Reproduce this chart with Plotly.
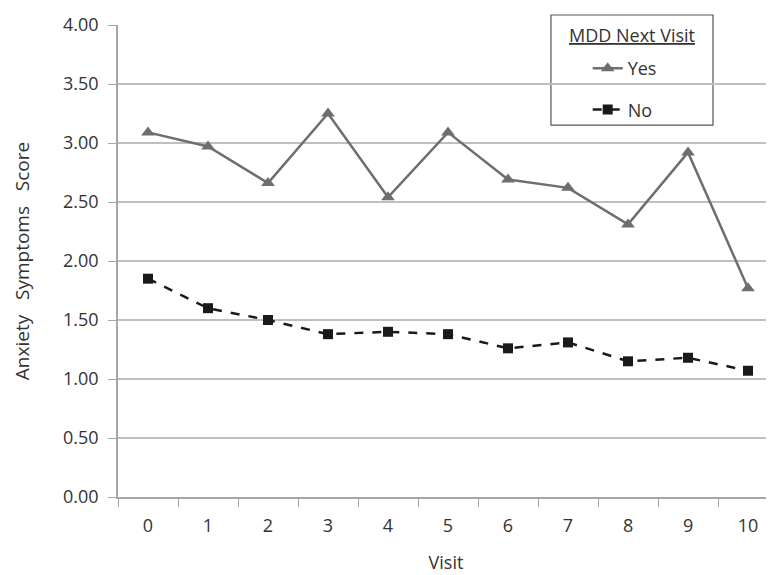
import plotly.graph_objects as go

visits = [str(i) for i in range(11)]
yes_scores = [3.09, 2.97, 2.66, 3.25, 2.54, 3.09, 2.69, 2.62, 2.31, 2.92, 1.77]
no_scores = [1.85, 1.60, 1.50, 1.38, 1.40, 1.38, 1.26, 1.31, 1.15, 1.18, 1.07]
y_ticks = [0, 0.5, 1.0, 1.5, 2.0, 2.5, 3.0, 3.5, 4.0]

FONT = "Open Sans"
TXT = "#333333"
fig = go.Figure()
fig.add_trace(go.Scatter(
    x=visits, y=yes_scores, name="Yes", mode="lines+markers", legendgroup="a",
    line=dict(color="#6e6e6e", width=2.5),
    marker=dict(symbol="triangle-up", size=12, color="#6e6e6e"),
))
fig.add_trace(go.Scatter(
    x=visits, y=no_scores, name="No", mode="lines+markers", legendgroup="b",
    line=dict(color="#1a1a1a", width=2.5, dash="dash"),
    marker=dict(symbol="square", size=10, color="#1a1a1a"),
))

# legend frame and title
fig.add_shape(type="rect", xref="paper", yref="paper",
              x0=0.660, x1=0.907, y0=0.788, y1=1.0212,
              line=dict(color="#555555", width=1.2), fillcolor="white", layer="between")
fig.add_annotation(xref="paper", yref="paper", x=0.7835, y=0.979,
                   xanchor="center", yanchor="middle",
                   text="<u>MDD Next Visit</u>", showarrow=False,
                   font=dict(family=FONT, size=18, color=TXT))

fig.update_layout(
    width=774, height=575,
    margin=dict(l=110, r=8, t=17, b=86),
    paper_bgcolor="white", plot_bgcolor="white",
    font=dict(family=FONT, size=18, color=TXT),
    showlegend=True,
    legend=dict(
        x=0.716, y=0.947, xanchor="left", yanchor="top",
        bgcolor="rgba(0,0,0,0)", borderwidth=0,
        font=dict(family=FONT, size=18, color=TXT),
        itemwidth=30, tracegroupgap=15,
    ),
    xaxis=dict(
        type="category", range=[-0.5, 10.433], automargin=False,
        showline=True, linecolor="#a6a6a6", linewidth=1.5,
        ticks="outside", ticklen=8, tickcolor="#a6a6a6", tickson="boundaries",
        showgrid=False, ticklabelstandoff=12,
        title=dict(text="Visit", font=dict(family=FONT, size=18, color=TXT), standoff=20),
        tickfont=dict(family=FONT, size=18, color=TXT),
    ),
    yaxis=dict(
        range=[0, 4], tickvals=y_ticks, tickformat=".2f", automargin=False,
        showline=True, linecolor="#a6a6a6", linewidth=1.5,
        ticks="outside", ticklen=8, tickcolor="#a6a6a6",
        showgrid=True, gridcolor="#bfbfbf", gridwidth=1.5,
        zeroline=False, ticklabelstandoff=6,
        title=dict(text="Anxiety&nbsp;&nbsp; Symptoms&nbsp;&nbsp; Score",
                   font=dict(family=FONT, size=19, color=TXT), standoff=28),
        tickfont=dict(family=FONT, size=18, color=TXT),
    ),
)

fig.write_html("out.html")
